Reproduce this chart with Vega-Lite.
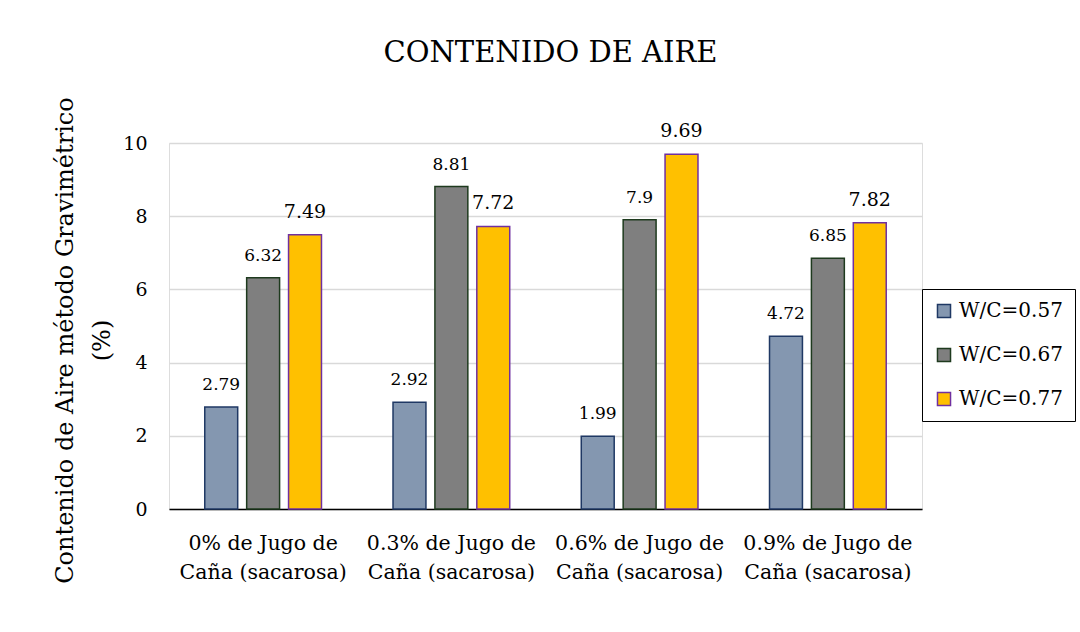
{
  "$schema": "https://vega.github.io/schema/vega-lite/v6.json",
  "autosize": {"type": "none"},
  "width": 753,
  "height": 366,
  "padding": {"left": 169, "top": 143, "right": 158, "bottom": 123},
  "background": "white",
  "title": {
    "text": "CONTENIDO DE AIRE",
    "font": "DejaVu Serif",
    "fontSize": 29,
    "fontWeight": "normal",
    "color": "black",
    "anchor": "middle",
    "frame": "group",
    "baseline": "alphabetic",
    "offset": 6,
    "dx": 5
  },
  "data": {
    "values": [
      {"grupo": "0% de Jugo de Caña (sacarosa)", "serie": "W/C=0.57", "valor": 2.79},
      {"grupo": "0% de Jugo de Caña (sacarosa)", "serie": "W/C=0.67", "valor": 6.32},
      {"grupo": "0% de Jugo de Caña (sacarosa)", "serie": "W/C=0.77", "valor": 7.49},
      {"grupo": "0.3% de Jugo de Caña (sacarosa)", "serie": "W/C=0.57", "valor": 2.92},
      {"grupo": "0.3% de Jugo de Caña (sacarosa)", "serie": "W/C=0.67", "valor": 8.81},
      {"grupo": "0.3% de Jugo de Caña (sacarosa)", "serie": "W/C=0.77", "valor": 7.72},
      {"grupo": "0.6% de Jugo de Caña (sacarosa)", "serie": "W/C=0.57", "valor": 1.99},
      {"grupo": "0.6% de Jugo de Caña (sacarosa)", "serie": "W/C=0.67", "valor": 7.9},
      {"grupo": "0.6% de Jugo de Caña (sacarosa)", "serie": "W/C=0.77", "valor": 9.69},
      {"grupo": "0.9% de Jugo de Caña (sacarosa)", "serie": "W/C=0.57", "valor": 4.72},
      {"grupo": "0.9% de Jugo de Caña (sacarosa)", "serie": "W/C=0.67", "valor": 6.85},
      {"grupo": "0.9% de Jugo de Caña (sacarosa)", "serie": "W/C=0.77", "valor": 7.82}
    ]
  },
  "encoding": {
    "x": {
      "field": "grupo",
      "type": "nominal",
      "sort": null,
      "scale": {"paddingInner": 0.38, "paddingOuter": 0.19},
      "axis": {
        "title": null,
        "labelAngle": 0,
        "labelExpr": "[replace(datum.label, ' Caña (sacarosa)', ''), 'Caña (sacarosa)']",
        "labelFont": "DejaVu Serif",
        "labelFontSize": 20.5,
        "labelLineHeight": 29,
        "labelColor": "black",
        "labelPadding": 24,
        "labelLimit": 300,
        "ticks": false,
        "domainColor": "black",
        "domainWidth": 1.5,
        "grid": false
      }
    },
    "xOffset": {
      "field": "serie",
      "type": "nominal",
      "scale": {"paddingInner": 0.214, "paddingOuter": 0}
    },
    "y": {
      "field": "valor",
      "type": "quantitative",
      "scale": {"domain": [0, 10], "nice": false},
      "axis": {
        "title": ["Contenido de Aire método Gravimétrico", "(%)"],
        "titleFont": "DejaVu Serif",
        "titleFontSize": 24,
        "titleFontWeight": "normal",
        "titleColor": "black",
        "titleLineHeight": 37,
        "titleX": -92,
        "titleY": 197,
        "values": [0, 2, 4, 6, 8, 10],
        "labelFont": "DejaVu Serif",
        "labelFontSize": 19,
        "labelColor": "black",
        "labelPadding": 22,
        "ticks": false,
        "domain": false,
        "gridColor": "#d9d9d9",
        "gridWidth": 1.5
      }
    }
  },
  "layer": [
    {
      "mark": {"type": "bar", "strokeWidth": 1.5},
      "encoding": {
        "fill": {
          "field": "serie",
          "type": "nominal",
          "scale": {"domain": ["W/C=0.57", "W/C=0.67", "W/C=0.77"], "range": ["#8497b0", "#7f7f7f", "#ffc000"]},
          "legend": {
            "title": null,
            "orient": "none",
            "legendX": 753,
            "legendY": 146,
            "symbolType": "square",
            "symbolSize": 170,
            "symbolStrokeWidth": 1.5,
            "labelFont": "DejaVu Serif",
            "labelFontSize": 20,
            "labelColor": "black",
            "labelOffset": 5,
            "labelLimit": 300,
            "rowPadding": 24,
            "padding": 12,
            "strokeColor": "black",
            "fillColor": "white"
          }
        },
        "stroke": {
          "field": "serie",
          "type": "nominal",
          "scale": {"domain": ["W/C=0.57", "W/C=0.67", "W/C=0.77"], "range": ["#1f3864", "#1e3a1e", "#7030a0"]},
          "legend": null
        }
      }
    },
    {
      "transform": [{"filter": "datum.serie !== 'W/C=0.77'"}],
      "mark": {"type": "text", "baseline": "alphabetic", "dy": -17, "font": "DejaVu Serif", "fontSize": 17, "color": "black"},
      "encoding": {
        "text": {"field": "valor", "type": "nominal"}
      }
    },
    {
      "transform": [{"filter": "datum.serie === 'W/C=0.77'"}],
      "mark": {"type": "text", "baseline": "alphabetic", "dy": -17, "font": "DejaVu Serif", "fontSize": 19, "color": "black"},
      "encoding": {
        "text": {"field": "valor", "type": "nominal"}
      }
    }
  ]
}
